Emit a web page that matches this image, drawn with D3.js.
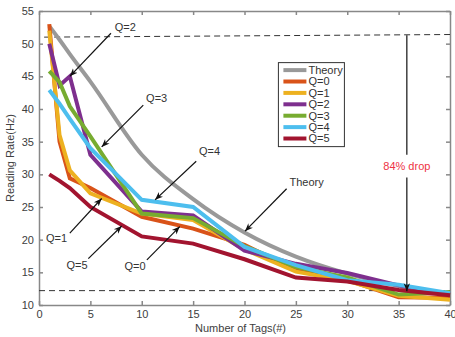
<!DOCTYPE html>
<html>
<head>
<meta charset="utf-8">
<script src="https://cdn.jsdelivr.net/npm/d3@7"></script>
<style>
  body { margin: 0; background: #fff; }
  svg { font-family: "Liberation Sans", Arial, sans-serif; }
  .axis path, .axis line { stroke: #888; stroke-width: 1.5; }
  .axis text { fill: #404040; font-size: 11px; }
  .axis-title { fill: #404040; font-size: 11px; }
  .note { fill: #333; font-size: 11px; }
</style>
</head>
<body>
<svg id="chart"></svg>
<script>
// number of tags on the x axis
const tagCounts = [1, 2, 3, 5, 10, 15, 20, 25, 30, 35, 40];

// reading rate (Hz) per series
const theory = [52.7, 50.6, 48.4, 44.2, 33.0, 26.2, 21.1, 17.4, 14.8, 12.9, 11.6];
const q0 = [53.0, 35.0, 29.4, 27.9, 23.5, 21.7, 19.2, 15.3, 13.8, 11.2, 11.1];
const q1 = [52.0, 36.0, 30.6, 27.1, 24.0, 23.0, 18.5, 15.1, 13.7, 11.4, 10.8];
const q2 = [50.0, 43.6, 45.0, 33.0, 24.3, 23.7, 18.3, 16.3, 14.9, 13.0, 11.6];
const q3 = [45.8, 44.1, 40.4, 35.8, 24.0, 23.3, 19.0, 15.8, 14.2, 11.6, 12.0];
const q4 = [42.9, 40.8, 38.5, 34.0, 26.1, 25.0, 18.9, 16.1, 13.8, 13.1, 11.8];
const q5 = [30.0, 29.0, 27.9, 25.0, 20.5, 19.4, 17.0, 14.2, 13.6, 12.3, 11.5];

const seriesNames = ['Theory', 'Q=0', 'Q=1', 'Q=2', 'Q=3', 'Q=4', 'Q=5'];
const seriesValues = [theory, q0, q1, q2, q3, q4, q5];
const seriesColors = ['#999999', '#D95319', '#EDB120', '#7E2F8E', '#77AC30', '#4DBEEE', '#A2142F'];

const xTicks = [0, 5, 10, 15, 20, 25, 30, 35, 40];
const yTicks = [10, 15, 20, 25, 30, 35, 40, 45, 50, 55];

// reference levels: start rate and end rate
const topLevel = [[0.5, 51.0], [40, 51.4]];
const bottomLevel = [[0, 12.2], [40, 12.2]];

// annotations: label position and arrow from -> to, in data units
const notes = [
  {text: 'Q=2', at: [8.4, 52.6], from: [7.0, 51.6], to: [3.0, 45.0]},
  {text: 'Q=3', at: [11.45, 41.7], from: [10.15, 40.6], to: [6.1, 34.2]},
  {text: 'Q=4', at: [16.6, 33.5], from: [15.3, 32.0], to: [11.3, 26.1]},
  {text: 'Theory', at: [26.05, 28.8], from: [24.1, 27.8], to: [20.05, 21.3]},
  {text: 'Q=1', at: [1.7, 20.2], from: [3.0, 21.0], to: [6.1, 26.3]},
  {text: 'Q=5', at: [3.7, 16.1], from: [4.8, 17.1], to: [8.05, 22.1]},
  {text: 'Q=0', at: [9.35, 15.9], from: [10.5, 16.9], to: [13.7, 22.0]},
];
const dropX = 35.8;

class RateChart {

  constructor(_config) {
    this.config = {
      parentElement: _config.parentElement,
      containerWidth: _config.containerWidth || 455,
      containerHeight: _config.containerHeight || 337,
      margin: _config.margin || {top: 11, right: 5, bottom: 32, left: 39},
    };
    this.initVis();
  }

  initVis() {
    let vis = this;

    vis.width = vis.config.containerWidth - vis.config.margin.left - vis.config.margin.right;
    vis.height = vis.config.containerHeight - vis.config.margin.top - vis.config.margin.bottom;

    vis.xScale = d3.scaleLinear().domain([0, 40]).range([0, vis.width]);
    vis.yScale = d3.scaleLinear().domain([10, 55]).range([vis.height, 0]);

    vis.svg = d3.select(vis.config.parentElement)
        .attr('width', vis.config.containerWidth)
        .attr('height', vis.config.containerHeight);

    vis.svg.append('defs').append('marker')
        .attr('id', 'head')
        .attr('viewBox', '0 0 10 10')
        .attr('refX', 10)
        .attr('refY', 5)
        .attr('markerUnits', 'userSpaceOnUse')
        .attr('markerWidth', 8)
        .attr('markerHeight', 8)
        .attr('orient', 'auto')
      .append('path')
        .attr('d', 'M0,1 L10,5 L0,9 L3,5 Z')
        .attr('fill', '#111');

    vis.chart = vis.svg.append('g')
        .attr('transform', `translate(${vis.config.margin.left},${vis.config.margin.top})`);

    vis.renderVis();
  }

  renderVis() {
    let vis = this;
    const x = vis.xScale, y = vis.yScale;

    // axes with inward ticks on all four sides
    vis.chart.append('g')
        .attr('class', 'axis')
        .attr('transform', `translate(0,${vis.height})`)
        .call(d3.axisBottom(x).tickValues(xTicks).tickSize(-4).tickPadding(5).tickSizeOuter(0));
    vis.chart.append('g')
        .attr('class', 'axis')
        .call(d3.axisTop(x).tickValues(xTicks).tickSize(-4).tickFormat('').tickSizeOuter(0));
    vis.chart.append('g')
        .attr('class', 'axis')
        .call(d3.axisLeft(y).tickValues(yTicks).tickSize(-4).tickPadding(5).tickSizeOuter(0));
    vis.chart.append('g')
        .attr('class', 'axis')
        .attr('transform', `translate(${vis.width},0)`)
        .call(d3.axisRight(y).tickValues(yTicks).tickSize(-4).tickFormat('').tickSizeOuter(0));

    vis.chart.append('text')
        .attr('class', 'axis-title')
        .attr('x', vis.width / 2 - 4)
        .attr('y', vis.height + 27)
        .style('text-anchor', 'middle')
        .text('Number of Tags(#)');
    vis.chart.append('text')
        .attr('class', 'axis-title')
        .attr('transform', `translate(-25,${vis.height / 2}) rotate(-90)`)
        .style('text-anchor', 'middle')
        .text('Reading Rate(Hz)');

    // dashed reference levels
    const straight = d3.line().x(d => x(d[0])).y(d => y(d[1]));
    [topLevel, bottomLevel].forEach(level => {
      vis.chart.append('path')
          .attr('d', straight(level))
          .attr('fill', 'none')
          .attr('stroke', '#333')
          .attr('stroke-width', 1)
          .attr('stroke-dasharray', '6,4');
    });

    // series lines
    const line = d3.line()
        .x((d, i) => x(tagCounts[i]))
        .y(d => y(d));
    seriesValues.forEach((vals, i) => {
      vis.chart.append('path')
          .attr('d', i === 0 ? line.curve(d3.curveMonotoneX)(vals) : line.curve(d3.curveLinear)(vals))
          .attr('fill', 'none')
          .attr('stroke', seriesColors[i])
          .attr('stroke-width', 4)
          .attr('stroke-linejoin', 'miter');
    });

    // annotations
    notes.forEach(n => {
      vis.chart.append('line')
          .attr('x1', x(n.from[0])).attr('y1', y(n.from[1]))
          .attr('x2', x(n.to[0])).attr('y2', y(n.to[1]))
          .attr('stroke', '#111')
          .attr('stroke-width', 1.2)
          .attr('marker-end', 'url(#head)');
      vis.chart.append('text')
          .attr('class', 'note')
          .attr('x', x(n.at[0]))
          .attr('y', y(n.at[1]))
          .attr('dy', '0.35em')
          .style('text-anchor', 'middle')
          .text(n.text);
    });

    // 84% drop marker
    vis.chart.append('line')
        .attr('x1', x(dropX)).attr('y1', y(51.3))
        .attr('x2', x(dropX)).attr('y2', y(33.0))
        .attr('stroke', '#111')
        .attr('stroke-width', 1.2);
    vis.chart.append('line')
        .attr('x1', x(dropX)).attr('y1', y(29.5))
        .attr('x2', x(dropX)).attr('y2', y(12.1))
        .attr('stroke', '#111')
        .attr('stroke-width', 1.2)
        .attr('marker-end', 'url(#head)');
    vis.chart.append('text')
        .attr('x', x(dropX))
        .attr('y', y(31.3))
        .attr('dy', '0.35em')
        .attr('fill', '#ee3344')
        .style('font-size', '11px')
        .style('text-anchor', 'middle')
        .text('84% drop');

    // legend
    const legend = vis.chart.append('g')
        .attr('transform', `translate(${x(23.3)},${y(47.1)})`);
    legend.append('rect')
        .attr('width', 66)
        .attr('height', 84)
        .attr('fill', '#fff')
        .attr('stroke', '#333')
        .attr('stroke-width', 1);
    seriesNames.forEach((name, i) => {
      const row = legend.append('g')
          .attr('transform', `translate(0,${7.5 + i * 11.4})`);
      row.append('line')
          .attr('x1', 5).attr('x2', 28)
          .attr('stroke', seriesColors[i])
          .attr('stroke-width', 4);
      row.append('text')
          .attr('x', 30)
          .attr('dy', '0.35em')
          .attr('fill', '#333')
          .style('font-size', '11px')
          .text(name);
    });
  }
}

new RateChart({parentElement: '#chart'});
</script>
</body>
</html>
